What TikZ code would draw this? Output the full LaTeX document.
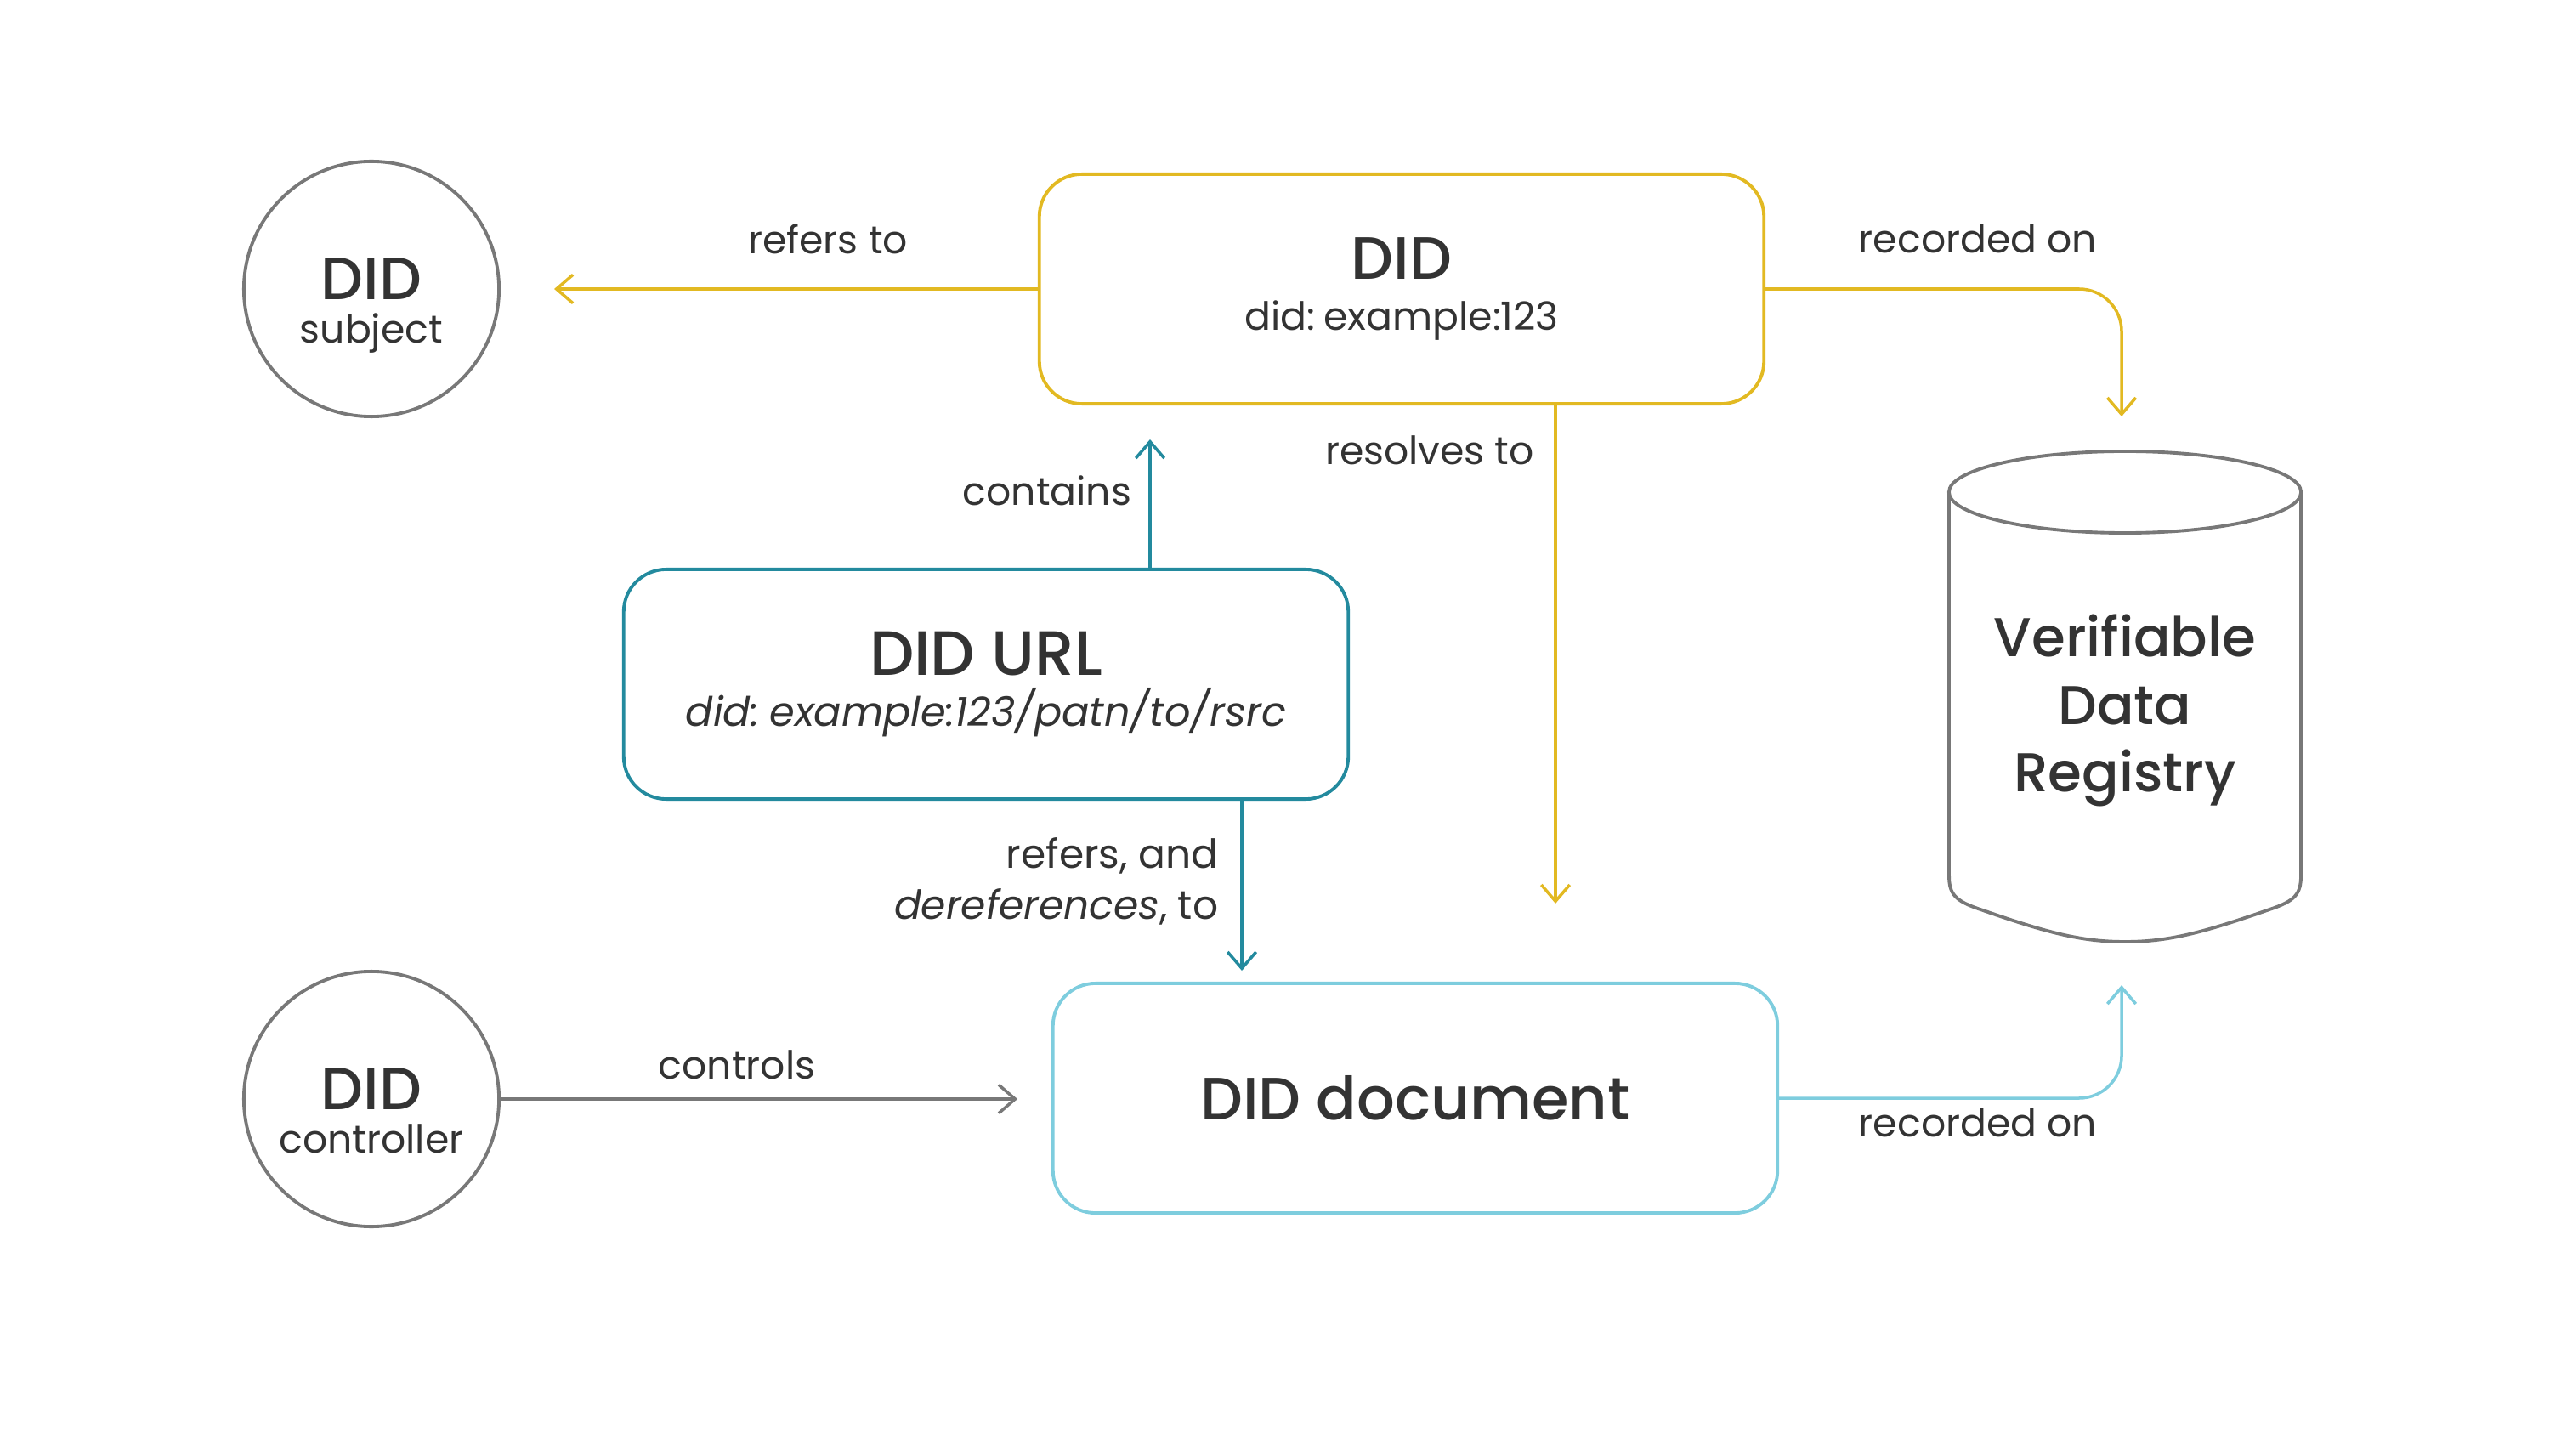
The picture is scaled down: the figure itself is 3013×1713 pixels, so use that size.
\documentclass[tikz,border=0pt]{standalone}
\usepackage{fontspec}
\setmainfont{Poppins}[BoldFont={Poppins Medium}]
\usetikzlibrary{arrows.meta,calc}
\definecolor{cyel}{HTML}{E2B922}
\definecolor{cteal}{HTML}{238A9E}
\definecolor{clblue}{HTML}{7ECDDE}
\definecolor{cgray}{HTML}{787878}
\definecolor{ctext}{HTML}{333333}
\newcommand\didbig{\fontsize{20}{20}\selectfont\bfseries}
\begin{document}
\begin{tikzpicture}[x=0.01cm,y=-0.01cm,
  every node/.style={text=ctext},
  box/.style={draw, line width=1.1pt, rounded corners=0.5cm, minimum width=8.52cm, minimum height=2.70cm, align=center, inner sep=0pt, font=\fontsize{13}{17}\selectfont},
  circ/.style={draw=cgray, line width=1.1pt, circle, minimum size=3.0cm, inner sep=0pt, align=center, font=\fontsize{13}{14.5}\selectfont},
  conn/.style={line width=1pt, -{Straight Barb[length=5.5pt,width=9.5pt]}},
  lbl/.style={font=\fontsize{13}{17}\selectfont, inner sep=0pt}]
\useasboundingbox (0,0) rectangle (3013,1713);

% circles
\node[circ] (subj) at (437,340) {{\didbig\rule{0pt}{25pt}DID}\\subject};
\node[circ] (ctrl) at (437,1293) {{\didbig\rule{0pt}{22pt}DID}\\controller};

% boxes
\node[box, draw=cyel] (did) at (1649,340) {{\didbig DID}\\did:\hspace{0.22em}example:123};
\node[box, draw=cteal] (url) at (1160,805) {{\fontsize{21}{20}\selectfont\bfseries DID URL}\\{\fontsize{13.6}{17}\selectfont\itshape did:\hspace{0.25em}example:123/patn/to/rsrc}};
\node[box, draw=clblue] (doc) at (1665,1292) {{\didbig DID document}};

% verifiable data registry
\node[font=\fontsize{18.3}{22.5}\selectfont\bfseries, align=center, inner sep=0pt] (vdr) at (2500,836) {Verifiable\\Data\\Registry};
\draw[cgray, line width=1.1pt] (2500,579) ellipse [x radius=2.07cm, y radius=0.48cm];
\draw[cgray, line width=1.1pt] (2293,579) -- (2293,1030)
  .. controls (2293,1052) and (2300,1060) .. (2330,1070)
  .. controls (2410,1098) and (2450,1108) .. (2500,1108)
  .. controls (2550,1108) and (2590,1098) .. (2670,1070)
  .. controls (2700,1060) and (2707,1052) .. (2707,1030) -- (2707,579);

% free ends
\coordinate (subjend) at (652,340);
\coordinate (vdrtop) at (2496,490);
\coordinate (resend) at (1830,1063);
\coordinate (contend) at (1353,517);
\coordinate (derefend) at (1461,1142);
\coordinate (ctrlend) at (1197,1293);
\coordinate (vdrbot) at (2496,1159);

% connectors
\draw[conn, cyel] (did.west) -- (subjend);
\draw[conn, cyel, rounded corners=0.5cm] (did.east) -| (vdrtop);
\draw[conn, cyel] (resend |- did.south) -- (resend);
\draw[conn, cteal] (contend |- url.north) -- (contend);
\draw[conn, cteal] (derefend |- url.south) -- (derefend);
\draw[conn, cgray] (ctrl.east) -- (ctrlend);
\draw[conn, clblue, rounded corners=0.5cm] (doc.east) -| (vdrbot);

% labels
\node[lbl] (l1) at (974,281) {refers to};
\node[lbl] (l2) at (2327,281) {recorded on};
\node[lbl] (l3) at (1682,530) {resolves to};
\node[lbl] (l4) at (1232,577) {contains};
\node[lbl, align=right, anchor=north east, font=\fontsize{13.4}{17}\selectfont] (l5) at (1434,985) {refers, and\\{\itshape dereferences}, to};
\node[lbl] (l6) at (867,1253) {controls};
\node[lbl] (l7) at (2327,1321) {recorded on};
\end{tikzpicture}
\end{document}
